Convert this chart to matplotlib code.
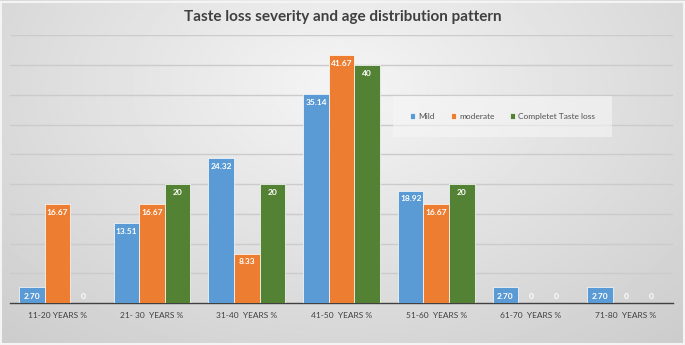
import matplotlib.pyplot as plt
import numpy as np
from matplotlib.patches import Rectangle

# Data
age_groups = ["11-20 YEARS %", "21- 30  YEARS %", "31-40  YEARS %", "41-50  YEARS %",
              "51-60  YEARS %", "61-70  YEARS %", "71-80  YEARS %"]
mild = [2.70, 13.51, 24.32, 35.14, 18.92, 2.70, 2.70]
moderate = [16.67, 16.67, 8.33, 41.67, 16.67, 0, 0]
complete = [0, 20, 20, 40, 20, 0, 0]
mild_labels = ["2.70", "13.51", "24.32", "35.14", "18.92", "2.70", "2.70"]
moderate_labels = ["16.67", "16.67", "8.33", "41.67", "16.67", "0", "0"]
complete_labels = ["0", "20", "20", "40", "20", "0", "0"]

series = [
    ("Mild", mild, mild_labels, "#5B9BD5"),
    ("moderate", moderate, moderate_labels, "#ED7D31"),
    ("Completet Taste loss", complete, complete_labels, "#548235"),
]

plt.rcParams['font.family'] = ['Lato', 'DejaVu Sans']

fig = plt.figure(figsize=(6.85, 3.45), dpi=100)

# gradient background (light in the middle, grey towards the edges)
bg = fig.add_axes([0, 0, 1, 1], zorder=-10)
yy, xx = np.mgrid[0:1:200j, 0:1:400j]
r = np.sqrt(((xx - 0.5) / 0.75) ** 2 + ((yy - 0.25) / 1.0) ** 2)
grad = 0.96 - 0.16 * np.clip(r, 0, 1)
bg.imshow(grad, cmap="gray", vmin=0, vmax=1, aspect="auto", extent=[0, 1, 0, 1], origin="upper")
bg.add_patch(Rectangle((0.002, 0.004), 0.996, 0.99, fill=False, edgecolor="#f4f4f4", lw=1.5))
bg.axis("off")

ax = fig.add_axes([0.0146, 0.121, 0.968, 0.777])
ax.patch.set_alpha(0)

x = np.arange(len(age_groups))
width = 0.27
for i, (name, vals, labels, color) in enumerate(series):
    pos = x + (i - 1) * width
    ax.bar(pos, vals, width, color=color, label=name, edgecolor="#ffffff", linewidth=0.5, zorder=3)
    for px, v, lab in zip(pos, vals, labels):
        off = 5 if v < 3 else -6
        xy_y = 0 if v < 3 else v
        ax.annotate(lab, (px, xy_y), xytext=(0, off), textcoords="offset points",
                    ha="center", va="center", fontsize=6, fontweight="bold",
                    color="white", zorder=4)

ax.set_ylim(0, 45)
ax.set_xlim(-0.5, len(age_groups) - 0.5)
ax.set_yticks(np.arange(5, 46, 5))
ax.grid(axis="y", color="#cbcbcb", linewidth=1.0, zorder=0)
ax.tick_params(axis="y", left=False, labelleft=False)
ax.tick_params(axis="x", length=0, pad=6, labelsize=6, labelcolor="#404040")
ax.set_xticks(x)
ax.set_xticklabels(age_groups)
for s in ["top", "right", "left"]:
    ax.spines[s].set_visible(False)
ax.spines["bottom"].set_color("#404040")
ax.spines["bottom"].set_linewidth(1.0)

fig.text(0.5, 0.95, "Taste loss severity and age distribution pattern", ha="center", va="center",
         fontsize=11, fontweight="bold", color="#404040")

leg = ax.legend(loc="center", bbox_to_anchor=(0.743, 0.697), ncol=3, fontsize=6, frameon=True,
                handlelength=0.6, handleheight=0.6, handletextpad=0.4, columnspacing=1.9,
                borderpad=2.0, fancybox=False)
leg.get_frame().set_facecolor("#f6f6f6")
leg.get_frame().set_alpha(0.6)
leg.get_frame().set_edgecolor("none")
for t in leg.get_texts():
    t.set_color("#505050")

fig.savefig("out.png", dpi=100)
